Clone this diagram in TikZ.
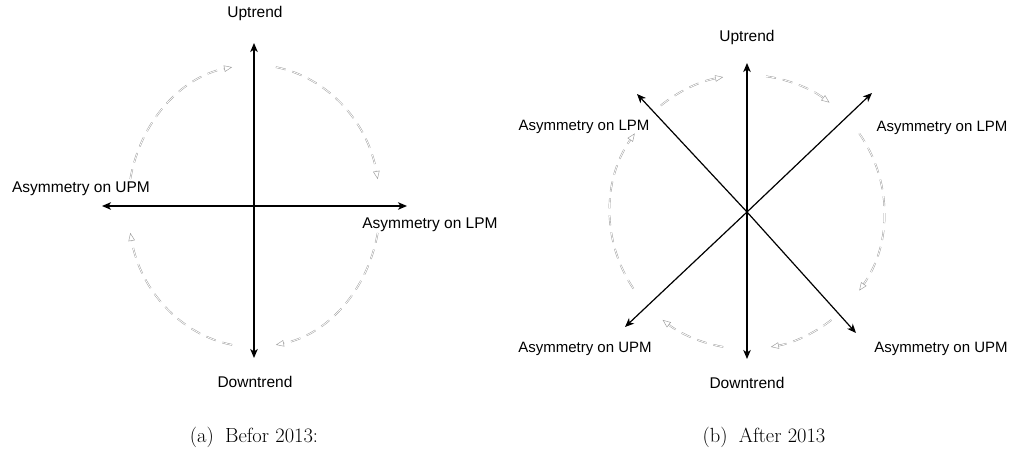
\documentclass[tikz,border=0pt]{standalone}
\usepackage{fontspec}
\usepackage{tikz}
\usetikzlibrary{arrows.meta,calc}
\newfontfamily\labelfont{Liberation Sans}
\definecolor{arcgray}{HTML}{9A9A9A}

\begin{document}
\begin{tikzpicture}[x=1pt,y=1pt,
  axis/.style={line width=1.2pt,{Stealth[length=9pt,width=7.5pt,inset=2.5pt]}-{Stealth[length=9pt,width=7.5pt,inset=2.5pt]}},
  ray/.style={line width=1.2pt,-{Stealth[length=9pt,width=7.5pt,inset=2.5pt]}},
  turn/.style={arcgray,double=white,double distance=0.8pt,line width=0.45pt,dash pattern=on 10pt off 7pt,-{Triangle[open,length=8pt,width=6.5pt]}},
  lbl/.style={font=\labelfont\fontsize{15.5}{18}\selectfont,inner sep=0pt},
  subcap/.style={font=\fontsize{20.5}{24}\selectfont,inner sep=0pt,anchor=base}]
  \useasboundingbox (0,0) rectangle (1009,449);
  % (a) before 2013
  \coordinate (ca) at (254,243);
  \coordinate (a-up) at (254,406);
  \coordinate (a-down) at (254,91);
  \coordinate (a-left) at (102,243);
  \coordinate (a-right) at (407,243);
  \draw[axis] (a-up) -- (a-down);
  \draw[axis] (a-left) -- (a-right);
  \node[lbl] (a-uptrend) at (255,435) {Uptrend};
  \node[lbl] (a-downtrend) at (255,67) {Downtrend};
  \node[lbl] (a-upm) at (81,260) {Asymmetry on UPM};
  \node[lbl] (a-lpm) at (430,224) {Asymmetry on LPM};
  \foreach \s/\e in {169/100,80/11,-11/-80,-100/-169}
    \draw[turn] ($(ca)+(\s:126 and 141)$) arc[start angle=\s,end angle=\e,x radius=126,y radius=141];
  \node[subcap] (cap-a) at (254,6) {(a)\hspace{0.55em}Befor 2013:};
  % (b) after 2013
  \coordinate (cb) at (747,237);
  \coordinate (b-up) at (747,386);
  \coordinate (b-down) at (747,90);
  \coordinate (b-ul) at (637,355);
  \coordinate (b-ur) at (872,356);
  \coordinate (b-ll) at (625,122);
  \coordinate (b-lr) at (856,116);
  \foreach \t in {b-up,b-down,b-ul,b-ur,b-ll,b-lr}
    \draw[ray] (cb) -- (\t);
  \node[lbl] (b-uptrend) at (747,411) {Uptrend};
  \node[lbl] (b-downtrend) at (747,66) {Downtrend};
  \node[lbl,font=\labelfont\fontsize{15}{18}\selectfont] (b-lpm-l) at (584,322) {Asymmetry on LPM};
  \node[lbl,font=\labelfont\fontsize{15}{18}\selectfont] (b-lpm-r) at (942,321) {Asymmetry on LPM};
  \node[lbl,font=\labelfont\fontsize{15}{18}\selectfont] (b-upm-l) at (585,100) {Asymmetry on UPM};
  \node[lbl,font=\labelfont\fontsize{15}{18}\selectfont] (b-upm-r) at (941,100) {Asymmetry on UPM};
  \foreach \s/\e in {129/100,82/53,35/-35,-52/-80,-100/-128,214/145}
    \draw[turn] ($(cb)+(\s:137 and 137)$) arc[start angle=\s,end angle=\e,radius=137];
  \node[subcap] (cap-b) at (764,6) {(b)\hspace{0.55em}After 2013};
\end{tikzpicture}
\end{document}
